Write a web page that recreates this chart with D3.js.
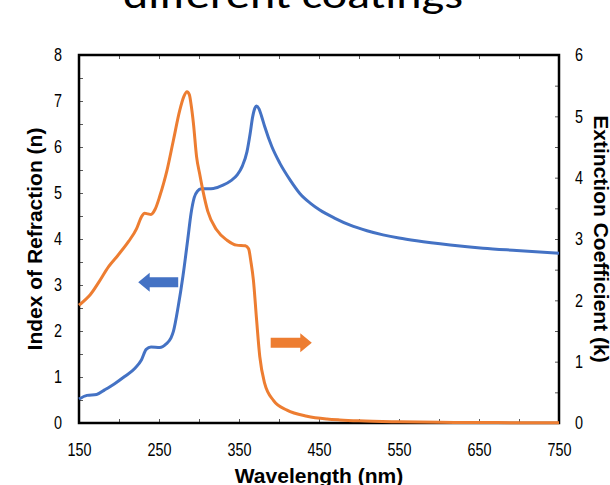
<!DOCTYPE html>
<html>
<head>
<meta charset="utf-8">
<script src="https://cdn.jsdelivr.net/npm/d3@7"></script>
<style>
  html, body { margin: 0; padding: 0; background: #fff; }
  svg { display: block; }
  .tick text { font-family: "Liberation Sans Narrow", "Arial Narrow", "Liberation Sans", Arial, sans-serif; font-size: 18px; fill: #000; }
  .axis-title { font-family: "Liberation Sans", Arial, sans-serif; font-weight: bold; font-size: 21px; fill: #000; }
</style>
</head>
<body>
<svg id="chart" width="610" height="485"></svg>
<script>
// Refractive index n (left axis)
const nWavelength = [150, 160, 172, 182, 195, 207, 220, 228, 234, 240, 251, 259, 265, 268, 274, 280, 286, 290, 294, 298,
  303, 318, 330, 340, 348, 354, 360, 364, 367, 370, 372, 375, 378, 382, 391, 401, 414, 426, 439, 451,
  470, 489, 510, 530, 550, 572, 614, 655, 697, 750];
const nValues = [0.52, 0.60, 0.62, 0.72, 0.86, 1.01, 1.19, 1.37, 1.60, 1.65, 1.64, 1.72, 1.85, 1.99, 2.53, 3.20, 4.00, 4.55, 4.90, 5.04,
  5.09, 5.10, 5.17, 5.27, 5.40, 5.58, 5.90, 6.30, 6.65, 6.85, 6.89, 6.83, 6.68, 6.45, 6.01, 5.65, 5.28, 4.99, 4.78, 4.63,
  4.45, 4.30, 4.18, 4.09, 4.02, 3.96, 3.87, 3.80, 3.75, 3.69];

// Extinction coefficient k (right axis)
const kWavelength = [150, 157, 164, 174, 187, 199, 212, 222, 228, 232, 236, 240, 245, 251, 256, 260, 268, 276, 281, 285,
  288, 290, 293, 297, 301, 305, 311, 322, 335, 347, 358, 362, 365, 368, 372, 376, 382, 393, 410, 435,
  460, 476, 500, 550, 600, 650, 700, 750];
const kValues = [1.92, 2.00, 2.09, 2.28, 2.55, 2.74, 2.96, 3.17, 3.36, 3.42, 3.41, 3.40, 3.48, 3.70, 3.92, 4.12, 4.61, 5.10, 5.32, 5.40,
  5.35, 5.20, 4.89, 4.34, 4.05, 3.78, 3.45, 3.15, 2.98, 2.90, 2.89, 2.84, 2.62, 2.33, 1.68, 1.08, 0.65, 0.37, 0.21, 0.11,
  0.065, 0.05, 0.035, 0.02, 0.012, 0.008, 0.005, 0.004];

// Axis ticks
const xTicks = [150, 200, 250, 300, 350, 400, 450, 500, 550, 600, 650, 700, 750];
const xLabelTicks = [150, 250, 350, 450, 550, 650, 750];
const nTicks = [0, 0.5, 1, 1.5, 2, 2.5, 3, 3.5, 4, 4.5, 5, 5.5, 6, 6.5, 7, 7.5, 8];
const kTicks = [0, 0.5, 1, 1.5, 2, 2.5, 3, 3.5, 4, 4.5, 5, 5.5, 6];

// Direction arrows: tail and tip wavelength, and the level they sit at
const nArrow = { from: 274, to: 224, level: 3.06 };
const kArrow = { from: 389.6, to: 441, level: 1.31 };

const headline = "different coatings";

const svg = d3.select("#chart");
const margin = { left: 79, right: 51, top: 55, bottom: 62 };
const W = 610, H = 485;
const x0 = margin.left, x1 = W - margin.right, y0 = H - margin.bottom, y1 = margin.top;

const x = d3.scaleLinear().domain([150, 750]).range([x0, x1]);
const yN = d3.scaleLinear().domain([0, 8]).range([y0, y1]);
const yK = d3.scaleLinear().domain([0, 6]).range([y0, y1]);

const blue = "#4472C4", orange = "#ED7D31";

// Heading (sits partly above the page)
svg.append("text")
  .attr("x", 293).attr("y", 8)
  .attr("text-anchor", "middle")
  .attr("textLength", 340)
  .attr("lengthAdjust", "spacingAndGlyphs")
  .style("font-family", "Carlito, Lato, 'Open Sans', sans-serif")
  .style("font-size", "38px")
  .attr("fill", "#000")
  .text(headline);

// Inward ticks on all four sides; tick labels in a narrow face
const narrow = 0.8;
function styleAxis(g) {
  g.select(".domain").remove();
  g.selectAll(".tick line").attr("stroke", "#595959").attr("stroke-width", 1);
  g.selectAll(".tick text").each(function () {
    const t = d3.select(this);
    const tx = +(t.attr("x") || 0), ty = +(t.attr("y") || 0);
    t.attr("x", 0).attr("y", 0)
      .attr("transform", `translate(${tx},${ty}) scale(${narrow},1)`);
  });
}
const fmtInt = d => Number.isInteger(d) ? d : "";

svg.append("g").attr("transform", `translate(0,${y0})`)
  .call(d3.axisBottom(x).tickValues(xTicks).tickSize(-4).tickPadding(20)
    .tickFormat(d => xLabelTicks.includes(d) ? d : ""))
  .call(styleAxis);
svg.append("g").attr("transform", `translate(0,${y1})`)
  .call(d3.axisTop(x).tickValues(xTicks).tickSize(-4).tickFormat(""))
  .call(styleAxis);
svg.append("g").attr("transform", `translate(${x0},0)`)
  .call(d3.axisLeft(yN).tickValues(nTicks).tickSize(-4).tickPadding(17).tickFormat(fmtInt))
  .call(styleAxis);
svg.append("g").attr("transform", `translate(${x1},0)`)
  .call(d3.axisRight(yK).tickValues(kTicks).tickSize(-4).tickPadding(16).tickFormat(fmtInt))
  .call(styleAxis);

// Plot frame
svg.append("rect")
  .attr("x", x0).attr("y", y1)
  .attr("width", x1 - x0).attr("height", y0 - y1)
  .attr("fill", "none").attr("stroke", "#000").attr("stroke-width", 2.5);

// Curves
const nLine = d3.line().x((d, i) => x(nWavelength[i])).y(d => yN(d)).curve(d3.curveMonotoneX);
const kLine = d3.line().x((d, i) => x(kWavelength[i])).y(d => yK(d)).curve(d3.curveMonotoneX);

svg.append("path").attr("d", nLine(nValues))
  .attr("fill", "none").attr("stroke", blue).attr("stroke-width", 3).attr("stroke-linejoin", "round");
svg.append("path").attr("d", kLine(kValues))
  .attr("fill", "none").attr("stroke", orange).attr("stroke-width", 3).attr("stroke-linejoin", "round");

// Block arrows pointing to each curve's axis
function blockArrow(tailX, tipX, cy, color) {
  const dir = Math.sign(tipX - tailX);
  const headLen = 11.5, headHalf = 9.5, shaftHalf = 5;
  const baseX = tipX - dir * headLen;
  const pts = [
    [tailX, cy - shaftHalf], [baseX, cy - shaftHalf], [baseX, cy - headHalf],
    [tipX, cy], [baseX, cy + headHalf], [baseX, cy + shaftHalf], [tailX, cy + shaftHalf]
  ];
  svg.append("path").attr("d", d3.line()(pts) + "Z").attr("fill", color);
}
blockArrow(x(nArrow.from), x(nArrow.to), yN(nArrow.level), blue);
blockArrow(x(kArrow.from), x(kArrow.to), yK(kArrow.level), orange);

// Axis titles
svg.append("text").attr("class", "axis-title")
  .attr("x", (x0 + x1) / 2).attr("y", 483)
  .attr("text-anchor", "middle")
  .text("Wavelength (nm)");
svg.append("text").attr("class", "axis-title")
  .attr("transform", `translate(42,${(y0 + y1) / 2}) rotate(-90)`)
  .attr("text-anchor", "middle")
  .text("Index of Refraction (n)");
svg.append("text").attr("class", "axis-title")
  .attr("transform", `translate(594,${(y0 + y1) / 2}) rotate(90)`)
  .attr("text-anchor", "middle")
  .text("Extinction Coefficient (k)");
</script>
</body>
</html>
